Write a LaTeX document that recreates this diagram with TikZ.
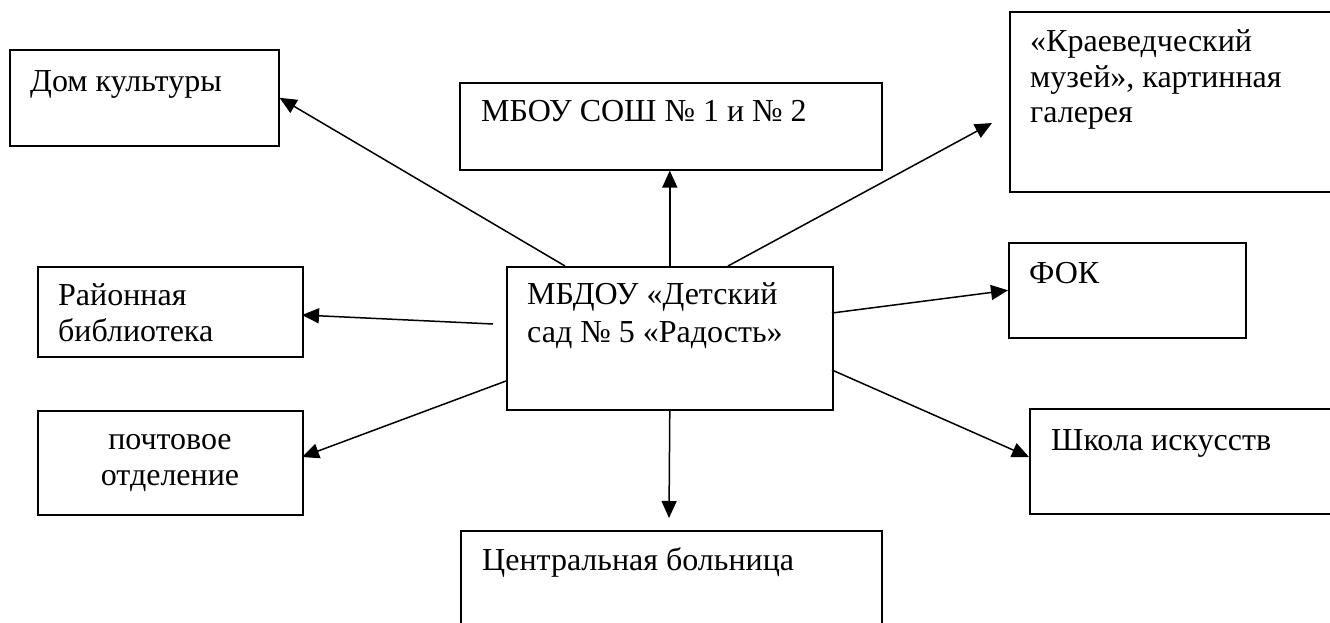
\documentclass[tikz,border=0pt]{standalone}
\usepackage{fontspec}
\setmainfont{Liberation Serif}
\usetikzlibrary{arrows.meta}
\begin{document}
\begin{tikzpicture}[x=1pt,y=-1pt,
  box/.style={draw=black, line width=1.6pt, rectangle, inner sep=0pt, anchor=north west},
  txt/.style={inner sep=0pt, anchor=base west, font=\fontsize{32}{36}\selectfont},
  ctxt/.style={inner sep=0pt, anchor=base, font=\fontsize{32}{36}\selectfont},
  arr/.style={line width=1.5pt, -{Triangle[length=17pt,width=15pt]}}]
\useasboundingbox (0,0) rectangle (1330,623);
\clip (0,0) rectangle (1330,623);
% boxes
\node[box, minimum width=269pt, minimum height=96pt] (dk) at (9,49) {};
\node[box, minimum width=422pt, minimum height=87pt] (mbou) at (459,82) {};
\node[box, minimum width=340pt, minimum height=180pt] (kr) at (1009,11) {};
\node[box, minimum width=237pt, minimum height=95pt] (fok) at (1008,242) {};
\node[box, minimum width=326pt, minimum height=143pt] (m) at (506,266) {};
\node[box, minimum width=265pt, minimum height=90pt] (rb) at (37,266) {};
\node[box, minimum width=265pt, minimum height=104pt] (po) at (37,410) {};
\node[box, minimum width=320pt, minimum height=105pt] (sh) at (1029,408) {};
\node[box, minimum width=421pt, minimum height=120pt] (cb) at (460,530) {};
% texts
\node[txt] (tdk) at (30,92) {Дом культуры};
\node[txt] (tmbou) at (481,122) {МБОУ СОШ № 1 и № 2};
\node[txt] (tkr1) at (1030,52) {«Краеведческий};
\node[txt] (tkr2) at (1030,88) {музей», картинная};
\node[txt] (tkr3) at (1030,123) {галерея};
\node[txt] (tfok) at (1029,283) {ФОК};
\node[txt] (tm1) at (527,304) {МБДОУ «Детский};
\node[txt] (tm2) at (527,342) {сад № 5 «Радость»};
\node[txt] (trb1) at (58,305) {Районная};
\node[txt] (trb2) at (58,341) {библиотека};
\node[ctxt] (tpo1) at (170,449) {почтовое};
\node[ctxt] (tpo2) at (170,485) {отделение};
\node[txt] (tsh) at (1051,450) {Школа искусств};
\node[txt] (tcb) at (482,570) {Центральная больница};
% connector points
\coordinate (s1) at (565,266);
\coordinate (s3) at (728,266);
\coordinate (e3) at (992,123);
\coordinate (s4) at (832,313);
\coordinate (s5) at (493,324);
\coordinate (e5) at (302,315);
\coordinate (s6) at (506,381);
\coordinate (e6) at (302,457);
\coordinate (s7) at (832,370);
\coordinate (e7) at (1029,457);
\coordinate (e8) at (669,518);
% arrows
\draw[arr] (s1) -- (dk.east);
\draw[arr] (m.north) -- (mbou.south -| m.north);
\draw[arr] (s3) -- (e3);
\draw[arr] (s4) -- (fok.west);
\draw[arr] (s5) -- (e5);
\draw[arr] (s6) -- (e6);
\draw[arr] (s7) -- (e7);
\draw[arr] (m.south) -- (e8);
\end{tikzpicture}
\end{document}
